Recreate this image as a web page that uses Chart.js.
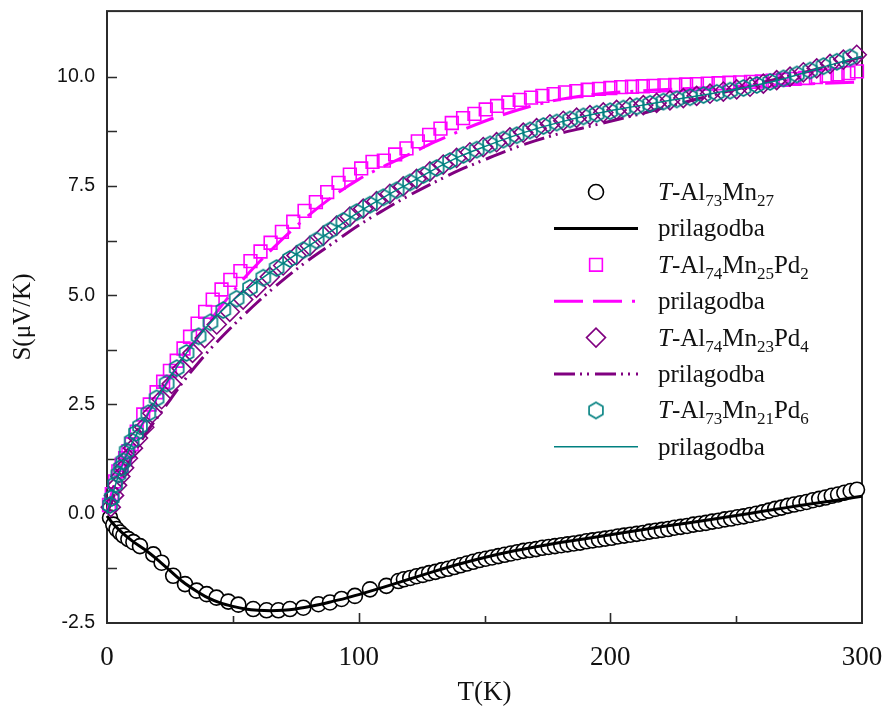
<!DOCTYPE html>
<html>
<head>
<meta charset="utf-8">
<script src="https://cdn.jsdelivr.net/npm/chart.js@4.4.1/dist/chart.umd.min.js"></script>
<style>
  html, body { margin: 0; padding: 0; background: #ffffff; }
  #wrap { width: 883px; height: 715px; }
</style>
</head>
<body>
<div id="wrap"><canvas id="c" width="883" height="715"></canvas></div>
<script>
// Thermopower S(T) of T-phase Al-Mn(-Pd) samples with fitted curves

// T-Al73Mn27 (measured)
const circleT = [1.2, 2.5, 3.8, 5.2, 6.5, 8.5, 10.5, 13.1, 18.4, 21.7, 26.3, 31, 35.6, 39.6, 43.5, 48.2, 52.2, 58.1, 63.4, 68.1, 72.7, 78, 84, 88.6, 93.2, 98.5, 104.5, 111, 115.8,
  118, 120.5, 123, 125.5, 128, 130.5, 133, 135.5, 138, 140.5, 143, 145.5, 148, 150.5, 153, 155.5, 158, 160.5, 163, 165.5, 168, 170.5, 173, 175.5, 178, 180.5, 183, 185.5, 188, 190.5,
  193, 195.5, 198, 200.5, 203, 205.5, 208, 210.5, 213, 215.5, 218, 220.5, 223, 225.5, 228, 230.5, 233, 235.5, 238, 240.5, 243, 245.5, 248, 250.5, 253, 255.5, 258, 260.5, 263, 265.5,
  268, 270.5, 273, 275.5, 278, 280.5, 283, 285.5, 288, 290.5, 293, 295.5, 298];
const circleS = [-0.09, -0.25, -0.35, -0.43, -0.50, -0.58, -0.65, -0.74, -0.93, -1.12, -1.42, -1.61, -1.76, -1.84, -1.92, -2.01, -2.08, -2.18, -2.21, -2.21, -2.18, -2.15, -2.07, -2.03, -1.95, -1.88, -1.73, -1.65, -1.54,
  -1.50, -1.47, -1.43, -1.40, -1.36, -1.33, -1.29, -1.26, -1.22, -1.18, -1.14, -1.10, -1.06, -1.03, -1.00, -0.97, -0.94, -0.91, -0.88, -0.85, -0.83, -0.81, -0.78, -0.76, -0.74, -0.72, -0.70, -0.68, -0.66, -0.63,
  -0.61, -0.59, -0.57, -0.55, -0.52, -0.50, -0.48, -0.46, -0.44, -0.41, -0.39, -0.37, -0.35, -0.32, -0.30, -0.28, -0.25, -0.23, -0.21, -0.18, -0.16, -0.13, -0.11, -0.08, -0.06, -0.03, 0.00, 0.03, 0.07, 0.11,
  0.14, 0.18, 0.21, 0.24, 0.27, 0.31, 0.34, 0.37, 0.41, 0.44, 0.48, 0.52, 0.55];
// T-Al73Mn27 (fit)
const fitAT = [0, 2, 5, 10, 15, 20, 25, 30, 35, 40, 45, 50, 55, 60, 65, 70, 75, 80, 85, 90, 95, 100, 110, 120, 130, 140, 150, 160, 170, 180, 190, 200, 210, 220, 230, 240, 250, 260, 270, 280, 290, 300];
const fitAS = [-0.05, -0.2, -0.38, -0.62, -0.82, -1.05, -1.3, -1.55, -1.75, -1.92, -2.04, -2.12, -2.18, -2.21, -2.22, -2.21, -2.18, -2.13, -2.07, -2.0, -1.93, -1.85, -1.68, -1.5, -1.32, -1.15, -1.0, -0.87, -0.76, -0.66, -0.57, -0.48, -0.39, -0.30, -0.22, -0.13, -0.04, 0.05, 0.14, 0.23, 0.31, 0.40];

// T-Al74Mn25Pd2 (measured)
const squareT = [0.8, 1.9, 3.2, 4.5, 5.8, 7.2, 8.5, 9.8, 11.8, 14.4, 17, 19.7, 22.3, 25, 27.7, 30.4, 33, 36, 39, 42, 45.5, 49, 53, 57, 61, 65, 69.5, 74, 78.5, 83, 87.5, 92, 96.5, 101, 105.5,
  110, 114.5, 119, 123.5, 128, 132.5, 137, 141.5, 146, 150.5, 155, 159.5, 164, 168.5, 173, 177.5, 182, 186.5, 191, 195.5, 200, 204.3, 208.6, 212.9, 217.2, 221.5, 225.8, 230.1,
  234.4, 238.7, 243, 247.3, 251.6, 255.9, 260.2, 264.5, 268.8, 273.1, 277.4, 281.7, 286, 290.3, 294.6, 298];
const squareS = [0.2, 0.45, 0.74, 0.97, 1.12, 1.27, 1.43, 1.59, 1.88, 2.27, 2.5, 2.78, 3.02, 3.27, 3.5, 3.78, 4.05, 4.35, 4.62, 4.9, 5.13, 5.35, 5.55, 5.78, 6.0, 6.2, 6.45, 6.68, 6.93, 7.13, 7.36, 7.57, 7.76, 7.9, 8.05,
  8.08, 8.22, 8.36, 8.52, 8.67, 8.81, 8.94, 9.05, 9.15, 9.25, 9.33, 9.41, 9.47, 9.52, 9.56, 9.60, 9.64, 9.67, 9.70, 9.72, 9.74, 9.76, 9.77, 9.78, 9.79, 9.80, 9.81, 9.82,
  9.83, 9.84, 9.85, 9.86, 9.87, 9.88, 9.89, 9.91, 9.93, 9.95, 9.97, 9.99, 10.02, 10.05, 10.08, 10.12];
// T-Al74Mn25Pd2 (fit)
const fitBT = [0, 2, 5, 10, 15, 20, 25, 30, 35, 40, 45, 50, 55, 60, 65, 70, 80, 90, 100, 110, 120, 130, 140, 150, 160, 170, 180, 190, 200, 220, 240, 260, 280, 300];
const fitBS = [0, 0.5, 1.0, 1.6, 2.15, 2.65, 3.1, 3.55, 3.95, 4.35, 4.72, 5.08, 5.42, 5.73, 6.02, 6.3, 6.82, 7.27, 7.65, 7.95, 8.22, 8.5, 8.75, 8.98, 9.18, 9.35, 9.48, 9.57, 9.63, 9.7, 9.75, 9.8, 9.84, 9.88];

// T-Al74Mn23Pd4 (measured)
const diamondT = [1.5, 2.8, 4.0, 5.3, 6.8, 8.3, 10.3, 12.3, 14.8, 18, 21.7, 25.7, 29.7, 34, 38.8, 43.6, 48.8, 54.1, 59.4, 64.7, 70, 75.3, 80.6, 85.9, 91.2, 96.5, 101.8, 107.1, 112.4, 117.7,
  123, 128.3, 133.6, 138.9, 144.2, 149.5, 154.8, 160.1, 165.4, 170.7, 176, 181.3, 186.6, 191.9, 197.2, 202.5, 207.8, 213.1, 218.4, 223.7, 229, 234.3, 239.6, 244.9, 250.2,
  255.5, 260.8, 266.1, 271.4, 276.7, 282, 287.3, 292.6, 297.9];
const diamondS = [0.15, 0.42, 0.65, 0.85, 1.05, 1.27, 1.5, 1.73, 1.98, 2.3, 2.62, 2.97, 3.32, 3.68, 4.02, 4.33, 4.62, 4.9, 5.17, 5.42, 5.68, 5.91, 6.13, 6.36, 6.59, 6.80, 6.98, 7.15, 7.32, 7.49,
  7.66, 7.83, 7.99, 8.14, 8.27, 8.39, 8.50, 8.61, 8.72, 8.82, 8.91, 8.99, 9.06, 9.12, 9.18, 9.24, 9.30, 9.35, 9.40, 9.46, 9.51, 9.56, 9.61, 9.66, 9.71,
  9.77, 9.84, 9.92, 10.00, 10.10, 10.19, 10.29, 10.39, 10.50];
// T-Al74Mn23Pd4 (fit)
const fitCT = [0, 2, 5, 10, 15, 20, 25, 30, 40, 50, 60, 70, 80, 90, 100, 110, 120, 130, 140, 150, 160, 170, 180, 190, 200, 210, 220, 230, 240, 250, 260, 270, 280, 290, 300];
const fitCS = [0, 0.3, 0.75, 1.3, 1.8, 2.2, 2.6, 3.0, 3.7, 4.3, 4.85, 5.35, 5.8, 6.2, 6.6, 6.95, 7.28, 7.58, 7.86, 8.1, 8.33, 8.53, 8.7, 8.84, 8.98, 9.12, 9.27, 9.42, 9.57, 9.71, 9.86, 10.0, 10.14, 10.29, 10.45];

// T-Al73Mn21Pd6 (measured)
const hexT = [1.2, 1.9, 3.2, 4.5, 5.5, 6.5, 7.8, 9.8, 11.5, 13.1, 16.4, 19.7, 23.7, 27.7, 31.6, 36.4, 41.1, 46.2, 51.5, 56.8, 62.1, 67.4, 72.7, 78, 83.3, 88.6, 93.9, 99.2, 104.5, 109.8,
  115.1, 120.4, 125.7, 131, 136.3, 141.6, 146.9, 152.2, 157.5, 162.8, 168.1, 173.4, 178.7, 184, 189.3, 194.6, 199.9, 205.2, 210.5, 215.8, 221.1, 226.4, 231.7, 237, 242.3,
  247.6, 252.9, 258.2, 263.5, 268.8, 274.1, 279.4, 284.7, 290, 295.3];
const hexS = [0.2, 0.36, 0.67, 0.9, 1.05, 1.2, 1.43, 1.66, 1.85, 2.0, 2.3, 2.64, 2.98, 3.33, 3.68, 4.06, 4.38, 4.66, 4.92, 5.17, 5.40, 5.62, 5.83, 6.03, 6.25, 6.48, 6.70, 6.90, 7.07, 7.24,
  7.40, 7.58, 7.75, 7.91, 8.07, 8.21, 8.33, 8.45, 8.56, 8.66, 8.77, 8.87, 8.95, 9.02, 9.09, 9.15, 9.21, 9.27, 9.32, 9.38, 9.43, 9.48, 9.53, 9.58, 9.63,
  9.68, 9.74, 9.81, 9.88, 9.96, 10.05, 10.14, 10.24, 10.34, 10.44];
// T-Al73Mn21Pd6 (fit)
const fitDT = [0, 2, 5, 10, 15, 20, 30, 40, 50, 60, 70, 80, 90, 100, 110, 120, 130, 140, 150, 160, 170, 180, 190, 200, 210, 220, 230, 240, 250, 260, 270, 280, 290, 300];
const fitDS = [0, 0.4, 0.95, 1.62, 2.15, 2.65, 3.55, 4.3, 4.88, 5.32, 5.73, 6.12, 6.5, 6.9, 7.24, 7.56, 7.88, 8.17, 8.4, 8.61, 8.8, 8.96, 9.1, 9.22, 9.32, 9.42, 9.52, 9.61, 9.71, 9.83, 9.97, 10.14, 10.31, 10.46];

// Legend texts ("_NN" marks a subscript, leading "T" is italic)
const seriesNames = ['T-Al_73Mn_27', 'prilagodba', 'T-Al_74Mn_25Pd_2', 'prilagodba',
                     'T-Al_74Mn_23Pd_4', 'prilagodba', 'T-Al_73Mn_21Pd_6', 'prilagodba'];
const xTitle = 'T(K)';
const yTitle = 'S(\u03BCV/K)';

const pairs = (xs, ys) => xs.map((x, i) => ({ x: x, y: ys[i] }));

// open hexagon marker (pointy top)
function hexagonMarker(color, r, lw) {
  const size = Math.ceil(2 * r + 2 * lw + 2);
  const cv = document.createElement('canvas');
  cv.width = size; cv.height = size;
  const g = cv.getContext('2d');
  const c = size / 2;
  g.beginPath();
  for (let k = 0; k < 6; k++) {
    const a = -Math.PI / 2 + k * Math.PI / 3;
    const px = c + r * Math.cos(a), py = c + r * Math.sin(a);
    if (k === 0) g.moveTo(px, py); else g.lineTo(px, py);
  }
  g.closePath();
  g.strokeStyle = color; g.lineWidth = lw; g.stroke();
  return cv;
}

const TEAL = '#008080', PURPLE = '#800080', MAGENTA = '#FF00FF', BLACK = '#000000';
const hexImg = hexagonMarker(TEAL, 8, 1.6);

const FRAME = '#2b2b2b';

// frame and inward tick marks
const framePlugin = {
  id: 'frameTicks',
  beforeDatasetsDraw(chart) {
    const { ctx, chartArea: a, scales } = chart;
    ctx.save();
    ctx.strokeStyle = FRAME;
    ctx.lineWidth = 2;
    ctx.strokeRect(a.left, a.top, a.right - a.left, a.bottom - a.top);
    ctx.lineWidth = 1.6;
    ctx.beginPath();
    scales.x.ticks.forEach(t => {
      if (t.value <= scales.x.min || t.value >= scales.x.max) return;
      const px = Math.round(scales.x.getPixelForValue(t.value)) + 0.5;
      const len = (t.value % 100 === 0) ? 10 : 7;
      ctx.moveTo(px, a.bottom); ctx.lineTo(px, a.bottom - len);
    });
    scales.y.ticks.forEach(t => {
      if (t.value <= scales.y.min || t.value >= scales.y.max - 0.1) return;
      const py = Math.round(scales.y.getPixelForValue(t.value)) + 0.5;
      ctx.moveTo(a.left, py); ctx.lineTo(a.left + 10, py);
    });
    ctx.stroke();
    ctx.restore();
  }
};

// legend with chemical subscripts
function drawRich(ctx, str, x, y) {
  const mainFont = '25px "Liberation Serif", "Times New Roman", serif';
  const italFont = 'italic 25px "Liberation Serif", "Times New Roman", serif';
  const subFont = '17px "Liberation Serif", "Times New Roman", serif';
  let cx = x;
  const parts = str.split(/(_\d+)/).filter(s => s.length);
  parts.forEach((p, idx) => {
    if (p[0] === '_') {
      ctx.font = subFont;
      const s = p.slice(1);
      ctx.fillText(s, cx, y + 6);
      cx += ctx.measureText(s).width;
    } else if (idx === 0 && p.startsWith('T-')) {
      ctx.font = italFont;
      ctx.fillText('T', cx, y);
      cx += ctx.measureText('T').width;
      ctx.font = mainFont;
      const rest = p.slice(1);
      ctx.fillText(rest, cx, y);
      cx += ctx.measureText(rest).width;
    } else {
      ctx.font = mainFont;
      ctx.fillText(p, cx, y);
      cx += ctx.measureText(p).width;
    }
  });
}

function legendMarker(ctx, ds, x, y) {
  const style = ds.pointStyle, r = ds.pointRadius;
  if (style instanceof HTMLCanvasElement) {
    ctx.drawImage(style, x - style.width / 2, y - style.height / 2);
    return;
  }
  ctx.strokeStyle = ds.borderColor;
  ctx.lineWidth = ds.borderWidth;
  ctx.beginPath();
  if (style === 'circle') {
    ctx.arc(x, y, r, 0, Math.PI * 2);
  } else if (style === 'rect') {
    const s = Math.SQRT1_2 * r;
    ctx.rect(x - s, y - s, 2 * s, 2 * s);
  } else if (style === 'rectRot') {
    ctx.moveTo(x - r, y); ctx.lineTo(x, y - r); ctx.lineTo(x + r, y); ctx.lineTo(x, y + r);
    ctx.closePath();
  }
  if (ds.backgroundColor && ds.backgroundColor !== 'transparent') {
    ctx.fillStyle = ds.backgroundColor; ctx.fill();
  }
  ctx.stroke();
}

const legendPlugin = {
  id: 'richLegend',
  afterDraw(chart) {
    const ctx = chart.ctx;
    const lineX0 = 554, lineX1 = 638, markX = 596, textX = 658;
    const base0 = 200, step = 36.4;
    chart.data.datasets.forEach((ds, i) => {
      const yb = base0 + i * step;
      const yc = yb - 8;
      ctx.save();
      if (ds.showLine) {
        ctx.strokeStyle = ds.borderColor;
        ctx.lineWidth = ds.borderWidth;
        ctx.setLineDash(ds.borderDash || []);
        ctx.beginPath();
        ctx.moveTo(lineX0, yc); ctx.lineTo(lineX1, yc);
        ctx.stroke();
        ctx.setLineDash([]);
      } else {
        legendMarker(ctx, ds, markX, yc);
      }
      ctx.fillStyle = '#111111';
      ctx.textBaseline = 'alphabetic';
      ctx.textAlign = 'left';
      drawRich(ctx, seriesNames[i], textX, yb);
      ctx.restore();
    });
  }
};

function markerSet(name, xs, ys, style, color, radius, fill, order) {
  return {
    label: name, data: pairs(xs, ys), showLine: false,
    pointStyle: style, pointRadius: radius, pointHoverRadius: radius,
    borderColor: color, backgroundColor: fill, borderWidth: 1.6,
    clip: false, order: order
  };
}
function fitSet(name, xs, ys, color, width, dash, order) {
  return {
    label: name, data: pairs(xs, ys), showLine: true,
    pointRadius: 0, pointHoverRadius: 0,
    borderColor: color, backgroundColor: color, borderWidth: width,
    borderDash: dash, cubicInterpolationMode: 'monotone', fill: false,
    clip: false, order: order
  };
}

const datasets = [
  markerSet(seriesNames[0], circleT, circleS, 'circle', BLACK, 7.5, '#ffffff', 8),
  fitSet(seriesNames[1], fitAT, fitAS, BLACK, 3, [], 7),
  markerSet(seriesNames[2], squareT, squareS, 'rect', MAGENTA, 9, 'transparent', 6),
  fitSet(seriesNames[3], fitBT, fitBS, MAGENTA, 3, [29, 10, 29, 10, 3, 10], 5),
  markerSet(seriesNames[4], diamondT, diamondS, 'rectRot', PURPLE, 9.5, 'transparent', 4),
  fitSet(seriesNames[5], fitCT, fitCS, PURPLE, 3, [21, 5, 2, 5, 2, 6], 3),
  markerSet(seriesNames[6], hexT, hexS, hexImg, TEAL, 8, 'transparent', 2),
  fitSet(seriesNames[7], fitDT, fitDS, TEAL, 1.5, [], 1)
];

// fixed axis boxes: no extra label overhang padding
function fixBox(s, w, h) {
  if (w !== null) s.width = w;
  if (h !== null) s.height = h;
  s.paddingLeft = 0; s.paddingRight = 0; s.paddingTop = 0; s.paddingBottom = 0;
}

new Chart(document.getElementById('c'), {
  type: 'scatter',
  data: { datasets: datasets },
  options: {
    responsive: false,
    animation: false,
    devicePixelRatio: 1,
    layout: { padding: { left: 0, top: 9, right: 21, bottom: 0 } },
    plugins: { legend: { display: false }, tooltip: { enabled: false } },
    scales: {
      x: {
        type: 'linear', min: 0, max: 300,
        grid: { display: false, drawTicks: false },
        border: { display: false },
        ticks: {
          stepSize: 50, padding: 19, color: '#111111', maxRotation: 0, autoSkip: false,
          font: { family: '"Liberation Serif", "Times New Roman", serif', size: 27 },
          callback: v => (v % 100 === 0 ? String(v) : '')
        },
        title: {
          display: true, text: xTitle, color: '#111111',
          font: { family: '"Liberation Serif", "Times New Roman", serif', size: 27 },
          padding: { top: 0, bottom: 6 }
        },
        afterFit: s => fixBox(s, null, 92)
      },
      y: {
        type: 'linear', min: -2.5, max: 11.5,
        grid: { display: false, drawTicks: false },
        border: { display: false },
        ticks: {
          stepSize: 1.25, padding: 12, color: '#111111', autoSkip: false,
          font: { family: '"Liberation Sans", Arial, sans-serif', size: 19.5 },
          callback: v => {
            const k = v / 2.5;
            return Math.abs(k - Math.round(k)) < 1e-6 ? v.toFixed(1) : '';
          }
        },
        title: {
          display: true, text: yTitle, color: '#111111',
          font: { family: '"Liberation Serif", "Times New Roman", serif', size: 25 },
          padding: { top: 8, bottom: 0 }
        },
        afterFit: s => fixBox(s, 107, null)
      }
    }
  },
  plugins: [framePlugin, legendPlugin]
});
</script>
</body>
</html>
